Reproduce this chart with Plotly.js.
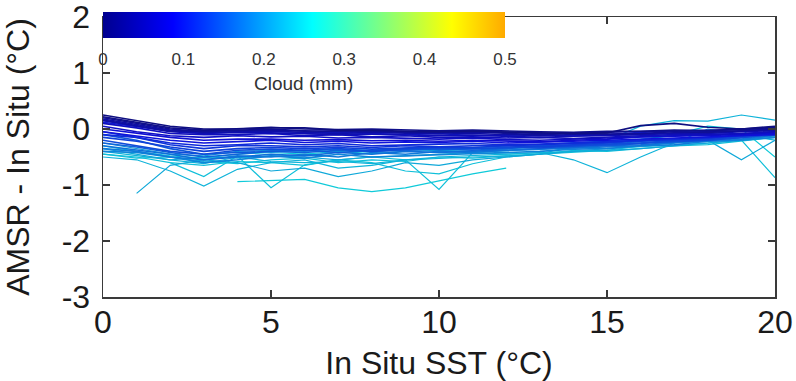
<!DOCTYPE html>
<html>
<head>
<meta charset="utf-8">
<script src="https://cdn.plot.ly/plotly-3.0.1.min.js"></script>
<style>
  html, body { margin: 0; padding: 0; background: #fff; }
  #chart { width: 796px; height: 381px; }
</style>
</head>
<body>
<div id="chart"></div>
<script>
// In situ SST bins (°C)
const sst = [0, 1, 2, 3, 4, 5, 6, 7, 8, 9, 10, 11, 12, 13, 14, 15, 16, 17, 18, 19, 20];

// Cloud liquid water (mm) for each curve
const cloud = [
  0.00, 0.01, 0.02, 0.03, 0.04, 0.05, 0.06, 0.07, 0.08, 0.09,
  0.10, 0.11, 0.12, 0.13, 0.14, 0.15, 0.16, 0.17, 0.18, 0.19,
  0.22, 0.23, 0.24, 0.25, 0.24, 0.23, 0.24, 0.22, 0.25, 0.21
];

// Mean AMSR - in situ SST difference (°C) per SST bin, one row per cloud class
const diff = [
  [0.25, 0.15, 0.05, 0.00, 0.00, 0.02, 0.02, -0.02, -0.02, -0.04, -0.05, -0.04, -0.05, -0.06, -0.08, -0.07, 0.06, 0.10, 0.03, 0.00, 0.05],
  [0.22, 0.12, 0.02, -0.02, 0.00, 0.03, 0.00, -0.01, 0.00, -0.02, -0.03, -0.02, -0.04, -0.05, -0.06, -0.04, -0.04, -0.02, -0.03, 0.00, 0.03],
  [0.20, 0.10, 0.00, -0.05, -0.02, 0.00, -0.03, -0.05, -0.04, -0.06, -0.06, -0.03, -0.08, -0.10, -0.08, -0.09, -0.08, -0.05, -0.06, -0.03, 0.00],
  [0.16, 0.06, -0.04, -0.03, -0.03, -0.02, -0.04, -0.03, -0.05, -0.04, -0.06, -0.07, -0.06, -0.08, -0.07, -0.06, -0.05, -0.04, -0.02, -0.01, 0.01],
  [0.18, 0.08, -0.02, -0.06, -0.05, -0.04, -0.06, -0.08, -0.06, -0.07, -0.09, -0.08, -0.10, -0.12, -0.10, -0.10, -0.09, -0.07, -0.05, -0.04, -0.02],
  [0.15, 0.05, -0.05, -0.08, -0.06, -0.07, -0.08, -0.10, -0.09, -0.10, -0.12, -0.11, -0.13, -0.15, -0.13, -0.12, -0.10, -0.08, -0.08, -0.05, -0.03],
  [0.10, 0.02, -0.08, -0.10, -0.10, -0.08, -0.12, -0.10, -0.14, -0.12, -0.15, -0.14, -0.16, -0.15, -0.17, -0.14, -0.12, -0.10, -0.10, -0.08, -0.05],
  [0.05, -0.05, -0.12, -0.15, -0.12, -0.14, -0.13, -0.16, -0.15, -0.17, -0.18, -0.16, -0.19, -0.20, -0.18, -0.17, -0.15, -0.12, -0.10, -0.09, -0.06],
  [0.00, -0.08, -0.15, -0.20, -0.18, -0.18, -0.20, -0.19, -0.21, -0.20, -0.22, -0.20, -0.21, -0.23, -0.20, -0.18, -0.14, -0.13, -0.12, -0.10, -0.08],
  [-0.05, -0.12, -0.20, -0.25, -0.22, -0.20, -0.24, -0.22, -0.25, -0.23, -0.24, -0.22, -0.25, -0.24, -0.22, -0.20, -0.18, -0.16, -0.14, -0.12, -0.10],
  [0.12, 0.05, -0.03, -0.08, -0.05, -0.08, -0.07, -0.06, -0.08, -0.10, -0.08, -0.12, -0.11, -0.10, -0.12, -0.11, -0.06, -0.03, -0.04, 0.00, 0.02],
  [-0.10, -0.15, -0.25, -0.30, -0.28, -0.25, -0.28, -0.26, -0.30, -0.28, -0.27, -0.26, -0.28, -0.27, -0.25, -0.22, -0.20, -0.18, -0.16, -0.10, -0.05],
  [-0.05, -0.15, -0.28, -0.35, -0.30, -0.30, -0.32, -0.30, -0.33, -0.30, -0.32, -0.30, -0.30, -0.28, -0.26, -0.24, -0.20, -0.18, -0.15, -0.12, -0.05],
  [-0.15, -0.22, -0.32, -0.40, -0.35, -0.33, -0.35, -0.33, -0.36, -0.34, -0.32, -0.33, -0.30, -0.32, -0.28, -0.25, -0.22, -0.20, -0.18, -0.12, -0.06],
  [-0.20, -0.30, -0.40, -0.45, -0.38, -0.36, -0.38, -0.35, -0.40, -0.36, -0.34, -0.35, -0.33, -0.34, -0.30, -0.27, -0.25, -0.22, -0.20, -0.15, -0.10],
  [-0.10, -0.20, -0.35, -0.45, -0.42, -0.40, -0.38, -0.42, -0.38, -0.35, -0.37, -0.36, -0.34, -0.30, -0.28, -0.30, -0.26, -0.22, -0.20, -0.15, -0.08],
  [-0.25, -0.32, -0.42, -0.50, -0.45, -0.40, -0.42, -0.38, -0.40, -0.38, -0.36, -0.38, -0.35, -0.30, -0.32, -0.28, -0.25, -0.20, -0.18, -0.15, -0.10],
  [-0.30, -0.38, -0.45, -0.55, -0.50, -0.45, -0.48, -0.42, -0.45, -0.40, -0.42, -0.40, -0.38, -0.35, -0.33, -0.30, -0.28, -0.24, -0.20, -0.15, -0.10],
  [-0.35, -0.40, -0.50, -0.55, -0.48, -0.50, -0.45, -0.50, -0.42, -0.45, -0.40, -0.42, -0.38, -0.36, -0.35, -0.33, -0.30, -0.28, -0.22, -0.18, -0.12],
  [-0.40, -0.42, -0.50, -0.60, -0.55, -0.48, -0.52, -0.45, -0.50, -0.48, -0.45, -0.44, -0.42, -0.40, -0.36, -0.35, -0.30, -0.25, -0.22, -0.20, -0.15],
  [null, -1.15, -0.65, -0.55, -0.60, -0.75, -0.70, -0.85, -0.75, -0.60, -0.65, -0.55, -0.50, -0.45, -0.40, -0.38, -0.35, -0.30, -0.25, -0.20, -0.15],
  [-0.50, -0.55, -0.75, -1.02, -0.72, -0.60, -0.55, -0.70, -0.65, -0.55, -0.50, -0.48, -0.45, -0.42, -0.55, -0.78, -0.50, -0.25, 0.00, -0.10, -0.20],
  [null, null, -0.60, -0.85, -0.48, -1.05, -0.64, -0.55, -0.60, -0.75, -0.80, -0.62, -0.50, -0.45, -0.38, -0.40, -0.35, -0.30, -0.28, -0.22, -0.15],
  [null, null, null, null, -0.94, -0.92, -0.90, -1.05, -1.12, -1.05, -0.92, -0.80, -0.70, null, null, null, null, null, null, null, null],
  [-0.45, -0.50, -0.60, -0.65, -0.58, -0.60, -0.65, -0.55, -0.50, -0.55, -1.08, -0.42, -0.45, -0.42, -0.40, -0.35, -0.32, -0.28, -0.25, -0.20, -0.12],
  [-0.40, -0.48, -0.55, -0.62, -0.50, -0.58, -0.60, -0.58, -0.62, -0.55, -0.52, -0.50, -0.48, -0.45, -0.30, -0.20, 0.05, 0.15, 0.14, 0.25, 0.16],
  [-0.45, -0.52, -0.50, -0.58, -0.62, -0.55, -0.52, -0.60, -0.55, -0.58, -0.50, -0.52, -0.48, -0.45, -0.42, -0.38, -0.30, -0.22, -0.15, -0.20, -0.87],
  [-0.35, -0.45, -0.55, -0.50, -0.52, -0.48, -0.50, -0.55, -0.50, -0.48, -0.45, -0.42, -0.40, -0.36, -0.32, -0.28, -0.22, -0.18, -0.20, -0.55, -0.20],
  [-0.30, -0.40, -0.48, -0.52, -0.45, -0.42, -0.45, -0.40, -0.44, -0.40, -0.38, -0.40, -0.35, -0.32, -0.30, -0.25, -0.20, -0.10, 0.05, 0.00, -0.50],
  [-0.25, -0.35, -0.45, -0.48, -0.40, -0.38, -0.40, -0.36, -0.38, -0.35, -0.32, -0.34, -0.30, -0.28, -0.25, -0.22, -0.18, -0.12, -0.08, -0.05, 0.00]
];

// Colour scale: the lower part of the jet map, dark navy to orange over 0-0.5 mm
const cloudScale = [
  [0.000, 'rgb(0,0,143)'],
  [0.174, 'rgb(0,0,255)'],
  [0.521, 'rgb(0,255,255)'],
  [0.868, 'rgb(255,255,0)'],
  [1.000, 'rgb(255,170,0)']
];
const cloudMin = 0, cloudMax = 0.5;

function parseRgb(s) {
  return s.match(/\d+/g).map(Number);
}
function scaleRgb(v) {
  const t = Math.max(0, Math.min(1, (v - cloudMin) / (cloudMax - cloudMin)));
  for (let i = 1; i < cloudScale.length; i++) {
    if (t <= cloudScale[i][0]) {
      const [t0, c0] = cloudScale[i - 1];
      const [t1, c1] = cloudScale[i];
      const f = (t - t0) / (t1 - t0);
      const a = parseRgb(c0), b = parseRgb(c1);
      return a.map((x, k) => x + (b[k] - x) * f);
    }
  }
  return parseRgb(cloudScale[cloudScale.length - 1][1]);
}
// thin curves are drawn a touch duller than the bar so they read on white
function lineColour(v) {
  const grey = [70, 70, 80];
  const m = scaleRgb(v).map((x, k) => Math.round(x * 0.78 + grey[k] * 0.22));
  return 'rgb(' + m.join(',') + ')';
}

const FONT = 'Liberation Sans, Arial, Helvetica, sans-serif';
const AXIS = '#3a3a3a';
const TEXT = '#1a1a1a';

// wetter classes first so the clear-sky curves sit on top
const order = cloud.map((c, i) => i).sort((a, b) => cloud[b] - cloud[a]);

const traces = order.map(i => ({
  type: 'scatter',
  mode: 'lines',
  x: sst,
  y: diff[i],
  connectgaps: false,
  line: { color: lineColour(cloud[i]), width: cloud[i] < 0.2 ? 1.6 : 1.2 },
  hoverinfo: 'skip',
  showlegend: false
}));

// invisible markers at each curve's first bin carry the colour bar
const firstIdx = diff.map(r => r.findIndex(v => v !== null));
traces.push({
  type: 'scatter',
  mode: 'markers',
  x: firstIdx.map(k => sst[k]),
  y: diff.map((r, i) => r[firstIdx[i]]),
  marker: {
    color: cloud,
    colorscale: cloudScale,
    cmin: cloudMin,
    cmax: cloudMax,
    opacity: 0,
    size: 1,
    showscale: true,
    colorbar: {
      orientation: 'h',
      x: 0, xanchor: 'left', xref: 'paper',
      y: 1.018, yanchor: 'top', yref: 'paper',
      lenmode: 'pixels', len: 402,
      thickness: 26,
      xpad: 0, ypad: 0,
      outlinewidth: 0,
      bgcolor: 'rgba(0,0,0,0)',
      tickvals: [0, 0.1, 0.2, 0.3, 0.4, 0.5],
      ticktext: ['0', '0.1', '0.2', '0.3', '0.4', '0.5'],
      ticks: 'outside', ticklen: 7, tickcolor: 'rgba(0,0,0,0)',
      tickfont: { family: FONT, size: 17, color: '#333' },
      title: { text: '' }
    }
  },
  hoverinfo: 'skip',
  showlegend: false
});

const axisCommon = {
  showgrid: false,
  zeroline: false,
  showline: true,
  linecolor: AXIS,
  linewidth: 1.5,
  mirror: 'ticks',
  ticks: 'inside',
  ticklen: 7,
  tickwidth: 1.5,
  tickcolor: AXIS,
  tickfont: { family: FONT, size: 32, color: TEXT },
  ticklabeloverflow: 'allow',
  automargin: false
};

const layout = {
  width: 796,
  height: 381,
  margin: { l: 103, r: 21, t: 17, b: 84, autoexpand: false },
  paper_bgcolor: '#fff',
  plot_bgcolor: '#fff',
  showlegend: false,
  xaxis: Object.assign({}, axisCommon, {
    range: [0, 20],
    tickmode: 'array',
    tickvals: [0, 5, 10, 15, 20],
    ticktext: ['0', '5', '10', '15', '20'],
    ticklabelstandoff: -4,
    title: { text: 'In Situ SST (°C)', font: { family: FONT, size: 32, color: TEXT } }
  }),
  yaxis: Object.assign({}, axisCommon, {
    range: [-3, 2],
    tickmode: 'array',
    tickvals: [-3, -2, -1, 0, 1, 2],
    ticktext: ['-3', '-2', '-1', '0', '1', '2'],
    ticklabelstandoff: 5,
    title: { text: 'AMSR - In Situ (°C)', font: { family: FONT, size: 32, color: TEXT } }
  }),
  annotations: [{
    text: 'Cloud (mm)',
    xref: 'paper', yref: 'paper',
    x: 0.299, y: 0.764,
    xanchor: 'center', yanchor: 'middle',
    showarrow: false,
    font: { family: FONT, size: 19, color: '#333' }
  }]
};

Plotly.newPlot('chart', traces, layout, { staticPlot: true, displayModeBar: false });
</script>
</body>
</html>
